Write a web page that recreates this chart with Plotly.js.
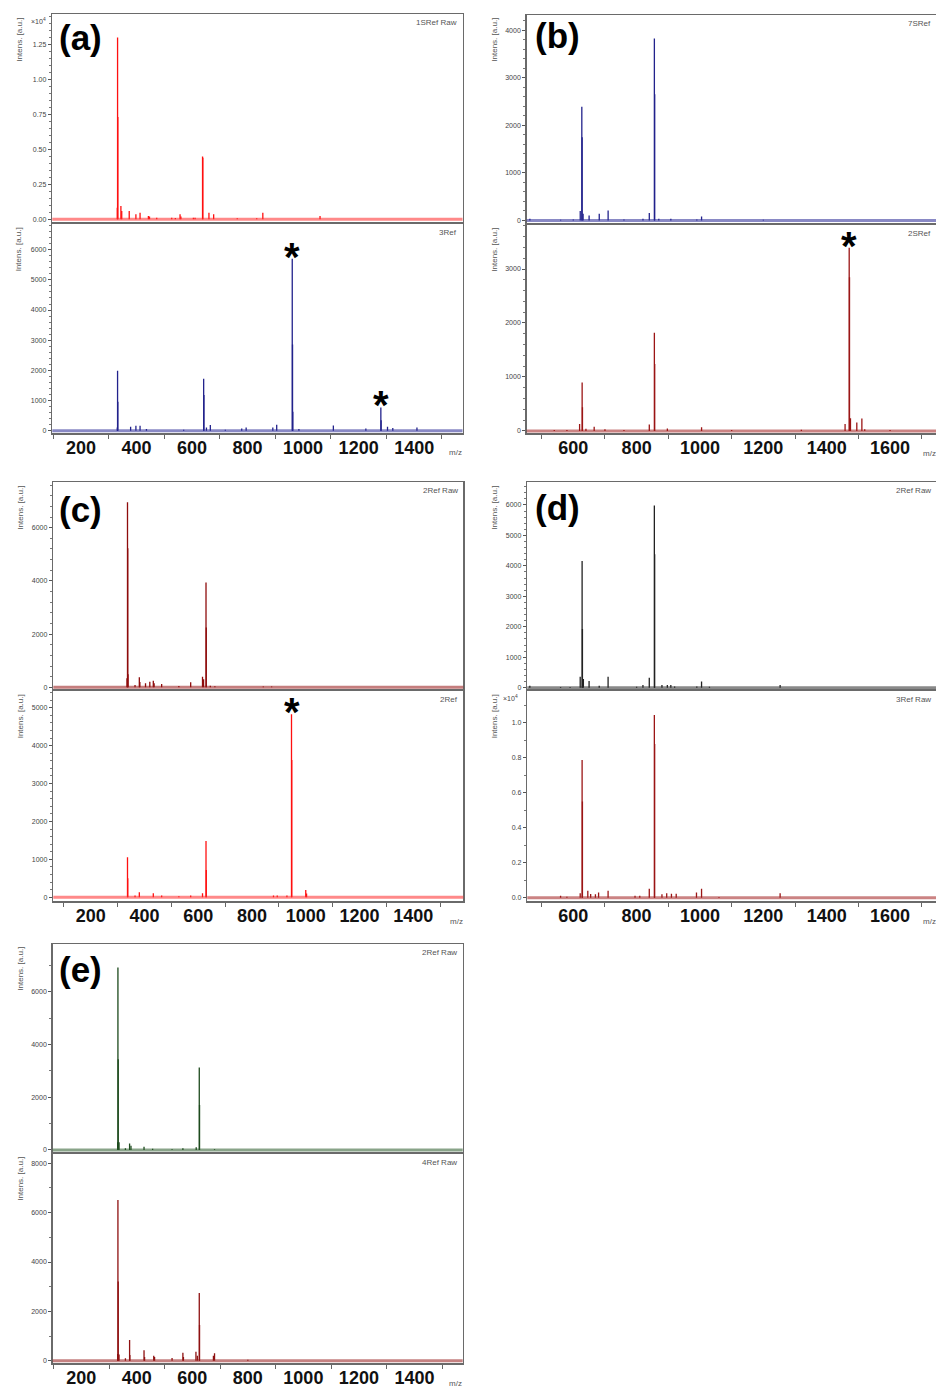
<!DOCTYPE html>
<html><head><meta charset="utf-8">
<script src="https://cdn.plot.ly/plotly-3.0.1.min.js"></script>
<style>html,body{margin:0;padding:0;background:#fff}#chart{width:936px;height:1387px}</style>
</head><body><div id="chart"></div>
<script>
// ---------- DATA (m/z, intensity [a.u.]) ----------
const a1Mz  = [331,332,333,344,347,374,398,413,443,447,473,527,540,557,560,605,611,638,639,661,678,763,833,855,1061];
const a1Int = [830,12970,7310,950,590,590,360,470,240,200,120,120,100,360,200,120,120,4480,4400,470,360,70,70,470,240];

const a2Mz  = [331,332,333,379,398,413,436,570,642,643,652,666,720,779,795,891,905,961,962,963,985,1109,1226,1280,1281,1304,1323,1410];
const a2Int = [110,1990,960,130,165,165,55,30,1720,1180,110,190,30,70,110,110,200,5700,2860,630,55,175,70,770,350,130,90,110];

const b1Mz  = [463,560,600,622,627,628,631,650,682,710,760,820,840,856,857,870,908,990,1005,1200];
const b1Int = [35,15,20,200,2390,1750,140,105,140,210,20,35,160,3825,2650,35,35,20,85,15];

const b2Mz  = [540,580,620,628,629,640,666,700,760,840,856,857,897,1005,1100,1320,1458,1471,1472,1475,1495,1511,1520,1600];
const b2Int = [20,20,130,900,440,40,80,30,20,120,1820,1240,45,70,20,25,130,3395,2845,235,155,230,30,20];

const c1Mz  = [335,337,338,339,365,381,383,404,420,433,436,464,528,572,616,620,629,630,645,662,842,873];
const c1Int = [340,6960,5230,490,90,375,200,150,210,250,150,125,50,190,400,300,3940,2245,60,40,30,30];

const c2Mz  = [337,338,365,381,433,464,528,572,616,629,630,880,894,930,947,948,1000,1003];
const c2Int = [1055,500,45,130,105,45,30,45,105,1485,720,45,45,45,4830,3620,195,100];

const d1Mz  = [463,560,590,622,628,629,632,650,682,710,800,820,840,856,857,880,897,908,920,990,1005,1030,1253];
const d1Int = [65,20,20,360,4160,1930,285,220,65,360,30,90,330,5980,4380,90,90,90,40,40,200,30,90];

const d2Mz  = [560,580,622,628,629,646,655,670,680,710,795,810,840,856,857,880,895,910,925,989,1005,1060,1253];
const d2Int = [110,60,250,7870,5490,400,210,190,290,400,110,110,510,10440,8780,190,250,230,230,300,510,40,250];

const e1Mz  = [331,332,333,336,359,374,379,426,457,527,566,614,625,626,680];
const e1Int = [290,6920,3435,290,65,250,165,125,50,25,65,100,3130,1705,25];

const e2Mz  = [331,332,333,336,359,374,375,426,428,461,464,527,566,568,613,618,625,626,676,680,800];
const e2Int = [270,6510,3215,250,95,840,230,420,150,200,150,110,325,150,365,200,2740,1450,200,300,40];

// labels
const spectrumNames = ['1SRef Raw','3Ref','7SRef','2SRef','2Ref Raw','2Ref','2Ref Raw','3Ref Raw','2Ref Raw','4Ref Raw'];
const panelLetters  = ['(a)','(b)','(c)','(d)','(e)'];
const xTicksLeft  = [200,400,600,800,1000,1200,1400];
const xTicksRight = [600,800,1000,1200,1400,1600];
const yTicksA1 = [0,2500,5000,7500,10000,12500];
const yTextA1  = ['0.00','0.25','0.50','0.75','1.00','1.25'];
const yTicksA2 = [0,1000,2000,3000,4000,5000,6000];
const yTicksB1 = [0,1000,2000,3000,4000];
const yTicksB2 = [0,1000,2000,3000];
const yTicksC1 = [0,2000,4000,6000];
const yTicksC2 = [0,1000,2000,3000,4000,5000];
const yTicksD1 = [0,1000,2000,3000,4000,5000,6000];
const yTicksD2 = [0,2000,4000,6000,8000,10000];
const yTextD2  = ['0.0','0.2','0.4','0.6','0.8','1.0'];
const yTicksE1 = [0,2000,4000,6000];
const yTicksE2 = [0,2000,4000,6000,8000];
// marked peaks (asterisks): [subplot index, m/z]
const starSubplot = [1,1,3,5];
const starMz      = [961,1280,1471,947];

// ---------- LAYOUT / STYLE ----------
const W=936, H=1387;
const FONT='Liberation Sans, Arial, sans-serif';
const cfg = [
 {mz:a1Mz,it:a1Int,col:'#ff1010',rgb:'255,40,40',  box:[52.3,462.5,14.3,222],   xr:[97,1574], yr:[-192,14634], yt:yTicksA1, ytt:yTextA1, mn:500,  xt:null},
 {mz:a2Mz,it:a2Int,col:'#22228c',rgb:'40,40,150',  box:[52.3,462.5,224,433],    xr:[97,1574], yr:[-76,6852],   yt:yTicksA2, ytt:null,    mn:200,  xt:xTicksLeft},
 {mz:b1Mz,it:b1Int,col:'#22228c',rgb:'40,40,150',  box:[526.7,936,15,222.5],    xr:[453,1745],yr:[-42,4316],   yt:yTicksB1, ytt:null,    mn:200,  xt:null},
 {mz:b2Mz,it:b2Int,col:'#9b1515',rgb:'160,30,30',  box:[526.7,936,225,433.3],   xr:[453,1745],yr:[-43,3815],   yt:yTicksB2, ytt:null,    mn:200,  xt:xTicksRight},
 {mz:c1Mz,it:c1Int,col:'#8e0c0c',rgb:'150,20,20',  box:[53.3,463.3,482.3,689],  xr:[61,1586], yr:[-64,7707],   yt:yTicksC1, ytt:null,    mn:400,  xt:null},
 {mz:c2Mz,it:c2Int,col:'#ff1010',rgb:'255,40,40',  box:[53.3,463.3,691,901],    xr:[61,1586], yr:[-98,5440],   yt:yTicksC2, ytt:null,    mn:200,  xt:xTicksLeft},
 {mz:d1Mz,it:d1Int,col:'#222222',rgb:'40,40,40',   box:[527.3,936,482.3,689],   xr:[455,1745],yr:[-43,6745],   yt:yTicksD1, ytt:null,    mn:200,  xt:null},
 {mz:d2Mz,it:d2Int,col:'#9b1515',rgb:'160,30,30',  box:[527.3,936,691,901],     xr:[455,1745],yr:[-189,11811], yt:yTicksD2, ytt:yTextD2, mn:1000, xt:xTicksRight},
 {mz:e1Mz,it:e1Int,col:'#1d4a1d',rgb:'40,90,40',   box:[52.7,462.7,944,1152],   xr:[97,1574], yr:[-76,7808],   yt:yTicksE1, ytt:null,    mn:1000, xt:null},
 {mz:e2Mz,it:e2Int,col:'#8e1010',rgb:'150,25,25',  box:[52.7,462.7,1154,1363.3],xr:[97,1574], yr:[-105,8377],  yt:yTicksE2, ytt:null,    mn:1000, xt:xTicksLeft},
];
const letterPos = [[57,16],[533,14],[57,488],[533,486],[57,948]];
const tenPowPos = [[0,38,20.7],[7,511,697.7]];

function sticks(mz,it){const x=[],y=[];mz.forEach((m,i)=>{x.push(m,m,null);y.push(0,it[i],null);});return {x,y};}

const data=[], layout={width:W,height:H,margin:{l:0,r:0,t:0,b:0},paper_bgcolor:'#fff',plot_bgcolor:'#fff',showlegend:false,shapes:[],annotations:[],font:{family:FONT}};
const fx=v=>v/W, fy=v=>1-v/H;

cfg.forEach((c,i)=>{
  const k=i+1, xs=k===1?'':k, xa='x'+xs, ya='y'+xs;
  const s=sticks(c.mz,c.it);
  data.push({type:'scatter',mode:'lines',x:s.x,y:s.y,xaxis:xa,yaxis:ya,line:{color:c.col,width:1.3},hoverinfo:'skip'});
  const [x0,x1,y0,y1]=c.box;
  const xax={domain:[fx(x0),Math.min(1,fx(x1))],range:c.xr,anchor:ya,showgrid:false,zeroline:false,
     showline:true,mirror:true,linecolor:'#6a6a6a',linewidth:1.5,showticklabels:!!c.xt};
  if(c.xt){
    Object.assign(xax,{ticks:'',tickmode:'array',tickvals:c.xt,ticktext:c.xt.map(v=>'<b>'+v+'</b>'),
      tickfont:{family:FONT,size:18,color:'#111'},ticklabelstandoff:-2,
      minor:{tickmode:'linear',tick0:100,dtick:200,ticks:'outside',ticklen:4,tickcolor:'#666',tickwidth:1}});
  } else {
    Object.assign(xax,{ticks:'',tickmode:'array',tickvals:[]});
  }
  layout['xaxis'+xs]=xax;
  layout['yaxis'+xs]={domain:[fy(y1),fy(y0)],range:c.yr,anchor:xa,showgrid:false,zeroline:false,
     showline:true,mirror:true,linecolor:'#6a6a6a',linewidth:1.5,
     tickmode:'array',tickvals:c.yt,ticktext:c.ytt||c.yt.map(String),ticks:'outside',ticklen:3,tickcolor:'#555',tickwidth:1,
     tickfont:{family:FONT,size:7,color:'#444'},
     minor:{tickmode:'linear',tick0:0,dtick:c.mn,ticks:'outside',ticklen:2,tickcolor:'#777',tickwidth:1}};
  // baseline band
  layout.shapes.push({type:'line',xref:xa+' domain',x0:0,x1:1,yref:ya,y0:0,y1:0,line:{color:'rgba('+c.rgb+',0.55)',width:3}});
  // spectrum name
  layout.annotations.push({xref:'paper',yref:'paper',x:fx(Math.min(x1,936)-3.5),y:fy(y0+8.5),xanchor:'right',yanchor:'middle',showarrow:false,
     text:spectrumNames[i],font:{family:FONT,size:8,color:'#555'}});
  // y title
  layout.annotations.push({xref:'paper',yref:'paper',x:fx(x0-33),y:fy(y0+1),xanchor:'center',yanchor:'top',showarrow:false,textangle:-90,
     text:'Intens. [a.u.]',font:{family:FONT,size:8,color:'#555'}});
  if(c.xt){
    layout.annotations.push({xref:'paper',yref:'paper',x:fx(Math.min(x1,936)-7),y:fy(y1+20),xanchor:'center',yanchor:'middle',showarrow:false,
       text:'m/z',font:{family:FONT,size:8,color:'#555'}});
  }
});
tenPowPos.forEach(p=>{
  layout.annotations.push({xref:'paper',yref:'paper',x:fx(p[1]),y:fy(p[2]),xanchor:'center',yanchor:'middle',showarrow:false,
    text:'×10<sup>4</sup>',font:{family:FONT,size:7,color:'#444'}});
});
panelLetters.forEach((t,i)=>{
  layout.annotations.push({xref:'paper',yref:'paper',x:fx(letterPos[i][0]),y:fy(letterPos[i][1]),xanchor:'left',yanchor:'top',showarrow:false,
    text:'<b>'+t+'</b>',font:{family:FONT,size:35,color:'#000'}});
});
starSubplot.forEach((si,j)=>{
  const c=cfg[si], k=si+1, xs=k===1?'':k;
  const idx=c.mz.indexOf(starMz[j]);
  layout.annotations.push({xref:'x'+xs,yref:'y'+xs,x:starMz[j],y:c.it[idx],xanchor:'center',yanchor:'middle',yshift:2,showarrow:false,
    text:'<b>*</b>',font:{family:FONT,size:40,color:'#000'}});
});

Plotly.newPlot('chart',data,layout,{staticPlot:true,displayModeBar:false});
</script>
</body></html>
